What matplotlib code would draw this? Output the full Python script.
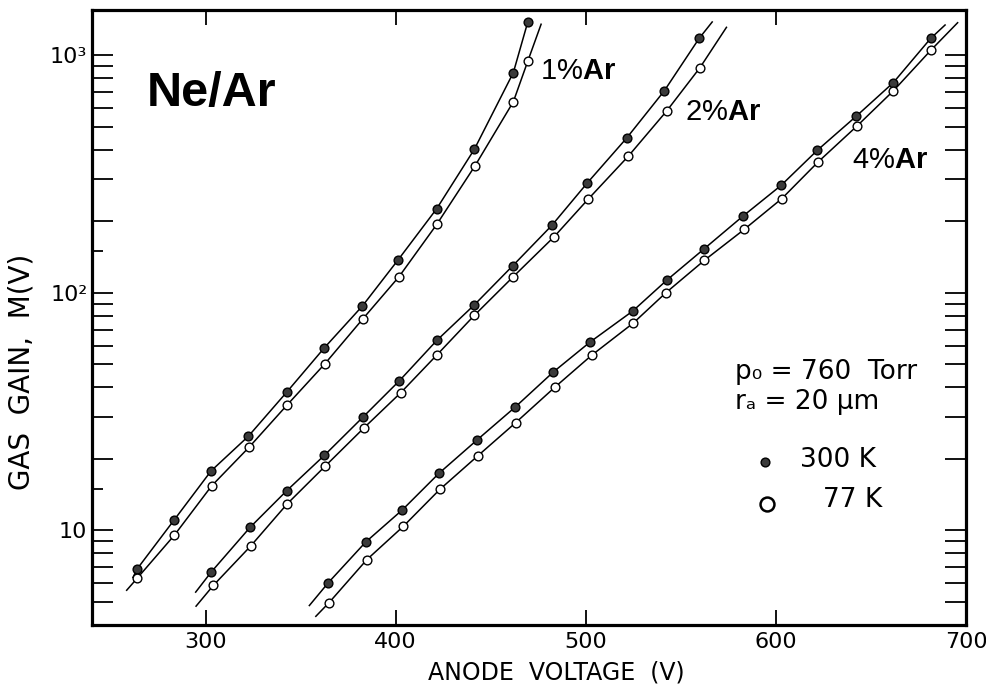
import matplotlib
matplotlib.use("Agg")
import matplotlib.pyplot as plt
from matplotlib.ticker import FixedLocator, FixedFormatter, NullFormatter

plt.rcParams["mathtext.fontset"] = "custom"
plt.rcParams["mathtext.bf"] = "Liberation Sans:bold"
plt.rcParams["mathtext.rm"] = "Liberation Sans"

# ---------------- data ----------------
v_1_300 = [264.1, 283.6, 302.9, 322.5, 342.7, 362.5, 382.5, 401.4, 421.6, 441.4, 461.9, 469.5]
g_1_300 = [6.9, 11.1, 17.8, 24.9, 38.2, 58.7, 88, 138, 226, 402, 845, 1380]
v_1_77 = [264.1, 283.6, 303.2, 322.9, 343.0, 362.8, 382.8, 401.8, 421.6, 441.7, 461.9, 469.5]
g_1_77 = [6.3, 9.55, 15.4, 22.4, 33.8, 50.3, 77.8, 117, 194, 342, 637, 944]

v_2_300 = [302.9, 323.4, 342.7, 362.5, 383.0, 401.9, 421.6, 441.4, 461.6, 482.1, 500.8, 521.5, 541.3, 559.6]
g_2_300 = [6.67, 10.3, 14.7, 20.7, 30.1, 42.6, 63, 89, 130, 192, 290, 448, 708, 1176]
v_2_77 = [304.1, 323.7, 343.0, 362.8, 383.3, 402.7, 421.9, 441.4, 461.9, 483.3, 501.3, 522.4, 542.6, 560.1]
g_2_77 = [5.87, 8.59, 12.95, 18.6, 27, 38, 55, 80.4, 117, 172, 248, 376, 583, 887]

v_4_300 = [364.6, 384.2, 403.5, 422.8, 443.0, 462.8, 482.9, 502.2, 524.7, 542.6, 562.2, 582.6, 602.7, 621.8, 642.2, 661.8, 681.4]
g_4_300 = [6.03, 8.93, 12.2, 17.4, 24.1, 33, 46.4, 62, 83.8, 113, 153, 210, 283, 398, 553, 767, 1176]
v_4_77 = [364.9, 384.8, 404.0, 423.3, 443.2, 463.1, 483.8, 503.1, 525.0, 542.1, 562.4, 583.4, 603.1, 622.3, 642.5, 661.8, 681.4]
g_4_77 = [4.96, 7.53, 10.4, 14.9, 20.6, 28.4, 40.1, 54.6, 74.6, 100, 137, 185, 249, 356, 502, 708, 1047]

# fitted-curve end points (voltage, gain)
curve_start = {"1_300": (261.8, 6.34), "1_77": (258.5, 5.6),
               "2_300": (294.8, 5.5), "2_77": (295.0, 4.8),
               "4_300": (354.6, 4.83), "4_77": (358.0, 4.35)}
curve_end = {"1_300": (469.5, 1380), "1_77": (476.5, 1350),
             "2_300": (566.5, 1380), "2_77": (574.0, 1310),
             "4_300": (689.0, 1340), "4_77": (695.6, 1370)}

x_ticks = [300, 400, 500, 600, 700]
y_major = [10, 100, 1000]
y_major_labels = ["10", "10\u00b2", "10\u00b3"]
y_minor = [5, 6, 7, 8, 9, 20, 30, 40, 50, 60, 70, 80, 90,
           200, 300, 400, 500, 600, 700, 800, 900]
y_half = [15, 150]

series = [
    ("1_300", v_1_300, g_1_300, True),
    ("1_77", v_1_77, g_1_77, False),
    ("2_300", v_2_300, g_2_300, True),
    ("2_77", v_2_77, g_2_77, False),
    ("4_300", v_4_300, g_4_300, True),
    ("4_77", v_4_77, g_4_77, False),
]

# ---------------- figure ----------------
fig = plt.figure(figsize=(9.86, 6.88), dpi=100)
ax = fig.add_axes([0.0928, 0.0916, 0.8869, 0.8939])
ax.set_yscale("log")
ax.set_xlim(240, 700)
ax.set_ylim(4, 1550)

for key, v, g, filled in series:
    s = curve_start[key]
    e = curve_end[key]
    lv = [s[0]] + list(v) + ([e[0]] if e[0] != v[-1] else [])
    lg = [s[1]] + list(g) + ([e[1]] if e[0] != v[-1] else [])
    ax.plot(lv, lg, color="black", lw=1.1, zorder=2)
    ax.plot(v, g, linestyle="none", marker="o", ms=6.3,
            markerfacecolor="#3a3a3a" if filled else "white",
            markeredgecolor="black", markeredgewidth=1.0, zorder=3)

# ticks
ax.xaxis.set_major_locator(FixedLocator(x_ticks))
ax.xaxis.set_minor_locator(FixedLocator([]))
ax.yaxis.set_major_locator(FixedLocator(y_major))
ax.yaxis.set_major_formatter(FixedFormatter(y_major_labels))
ax.yaxis.set_minor_locator(FixedLocator(y_minor))
ax.yaxis.set_minor_formatter(NullFormatter())
ax.tick_params(axis="x", which="major", direction="in", length=11, width=1.3,
               top=True, bottom=True, labelsize=16, pad=5)
ax.tick_params(axis="y", which="major", direction="in", length=15, width=1.3,
               left=True, right=True, labelsize=16, pad=3)
ax.tick_params(axis="y", which="minor", direction="in", length=15, width=1.3,
               left=True, right=True)
for lab in ax.get_xticklabels() + ax.get_yticklabels():
    lab.set_family("DejaVu Sans")

sec = ax.secondary_yaxis("left")
sec.set_yscale("log")
sec.yaxis.set_major_locator(FixedLocator(y_half))
sec.yaxis.set_minor_locator(FixedLocator([]))
sec.yaxis.set_major_formatter(NullFormatter())
sec.tick_params(axis="y", which="major", direction="in", length=8, width=1.3)
sec.spines["left"].set_visible(False)

for sp in ax.spines.values():
    sp.set_linewidth(2.3)

ax.set_xlabel("ANODE  VOLTAGE  (V)", fontsize=17, family="DejaVu Sans")
ax.xaxis.label.set_verticalalignment("center")
ax.xaxis.set_label_coords(0.531, -0.078)
ax.set_ylabel("GAS  GAIN,  M(V)", fontsize=20, family="DejaVu Sans")
ax.yaxis.label.set_verticalalignment("center")
ax.yaxis.set_label_coords(-0.0795, 0.411)

# annotations
ax.text(0.0635, 0.8634, "Ne/Ar", transform=ax.transAxes, fontsize=35,
        fontweight="bold", family="Liberation Sans", va="center", ha="left")
ax.text(0.513, 0.900, r"1%$\mathbf{Ar}$", transform=ax.transAxes, fontsize=21,
        family="Liberation Sans", va="center", ha="left")
ax.text(0.679, 0.834, r"2%$\mathbf{Ar}$", transform=ax.transAxes, fontsize=21,
        family="Liberation Sans", va="center", ha="left")
ax.text(0.870, 0.756, r"4%$\mathbf{Ar}$", transform=ax.transAxes, fontsize=21,
        family="Liberation Sans", va="center", ha="left")
ax.text(0.736, 0.411, "p\u2080 = 760  Torr", transform=ax.transAxes, fontsize=19,
        family="DejaVu Sans", va="center", ha="left")
ax.text(0.736, 0.3626, "r\u2090 = 20 \u03bcm", transform=ax.transAxes, fontsize=19,
        family="DejaVu Sans", va="center", ha="left")

# legend markers
ax.plot([0.770], [0.265], transform=ax.transAxes, linestyle="none", marker="o",
        ms=6.3, markerfacecolor="#3a3a3a", markeredgecolor="black", clip_on=False)
ax.plot([0.772], [0.197], transform=ax.transAxes, linestyle="none", marker="o",
        ms=10, markerfacecolor="white", markeredgecolor="black", markeredgewidth=1.8,
        clip_on=False)
ax.text(0.810, 0.268, "300 K", transform=ax.transAxes, fontsize=19,
        family="DejaVu Sans", va="center", ha="left")
ax.text(0.836, 0.203, "77 K", transform=ax.transAxes, fontsize=19,
        family="DejaVu Sans", va="center", ha="left")

fig.savefig("out.png", dpi=100)
